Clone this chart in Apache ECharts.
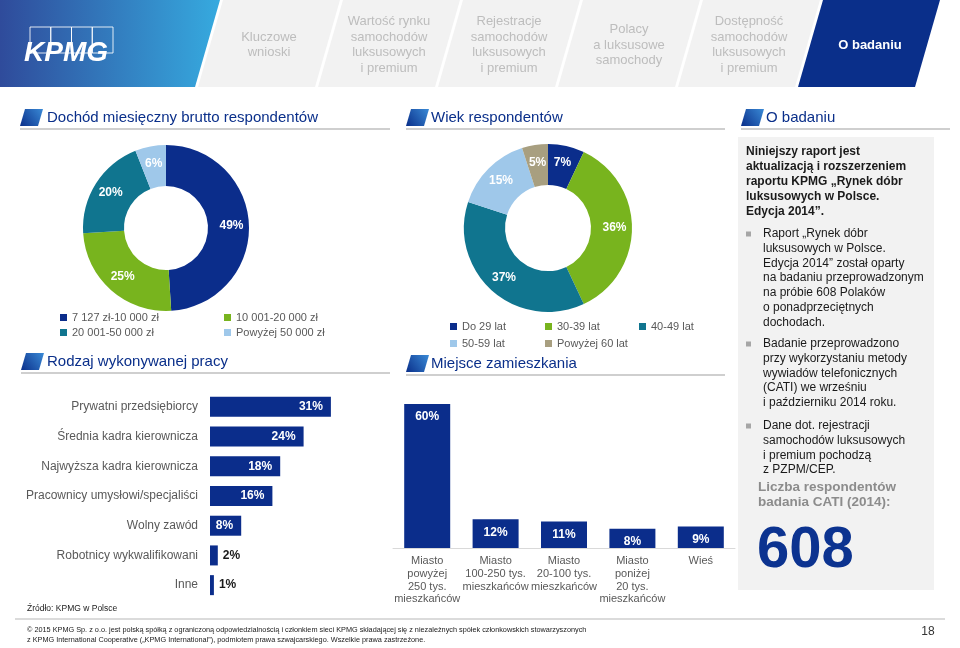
<!DOCTYPE html>
<html><head><meta charset="utf-8">
<script src="https://cdn.jsdelivr.net/npm/echarts@6/dist/echarts.min.js"></script>
<style>html,body{margin:0;padding:0;background:#fff}#c{width:960px;height:648px}</style>
</head><body><div id="c"></div>
<script>
// ---- data ----
const incomeCats = ['7 127 zł-10 000 zł', '10 001-20 000 zł', '20 001-50 000 zł', 'Powyżej 50 000 zł'];
const incomeVals = [49, 25, 20, 6];
const ageCats = ['Do 29 lat', '30-39 lat', '40-49 lat', '50-59 lat', 'Powyżej 60 lat'];
const ageVals = [7, 36, 37, 15, 5];
const jobCats = ['Prywatni przedsiębiorcy', 'Średnia kadra kierownicza', 'Najwyższa kadra kierownicza', 'Pracownicy umysłowi/specjaliści', 'Wolny zawód', 'Robotnicy wykwalifikowani', 'Inne'];
const jobVals = [31, 24, 18, 16, 8, 2, 1];
const placeCats = ['Miasto\npowyżej\n250 tys.\nmieszkańców', 'Miasto\n100-250 tys.\nmieszkańców', 'Miasto\n20-100 tys.\nmieszkańców', 'Miasto\nponiżej\n20 tys.\nmieszkańców', 'Wieś'];
const placeVals = [60, 12, 11, 8, 9];
const tabTexts = [['Kluczowe', 'wnioski'], ['Wartość rynku', 'samochodów', 'luksusowych', 'i premium'], ['Rejestracje', 'samochodów', 'luksusowych', 'i premium'], ['Polacy', 'a luksusowe', 'samochody'], ['Dostępność', 'samochodów', 'luksusowych', 'i premium']];
const introLines = ['Niniejszy raport jest', 'aktualizacją i rozszerzeniem', 'raportu KPMG „Rynek dóbr', 'luksusowych w Polsce.', 'Edycja 2014”.'];
const bullets = [
  ['Raport „Rynek dóbr', 'luksusowych w Polsce.', 'Edycja 2014” został oparty', 'na badaniu przeprowadzonym', 'na próbie 608 Polaków', 'o ponadprzeciętnych', 'dochodach.'],
  ['Badanie przeprowadzono', 'przy wykorzystaniu metody', 'wywiadów telefonicznych', '(CATI) we wrześniu', 'i październiku 2014 roku.'],
  ['Dane dot. rejestracji', 'samochodów luksusowych', 'i premium pochodzą', 'z PZPM/CEP.']
];
const respondents = '608';

// ---- style ----
const FONT = '"Liberation Sans", Arial, sans-serif';
const BLUE = '#0b2d8b';
const GREEN = '#78b41e';
const TEAL = '#10758f';
const LIGHT = '#9fc8ea';
const TAN = '#a89f80';
const GRAYTXT = '#595959';

function txt(text, x, y, o) {
  o = o || {};
  const al = o.align || 'left';
  return {type: 'text', x: x, y: y, silent: true, z: 10,
    style: {text: text, fill: o.color || GRAYTXT, fontSize: o.size || 12, fontWeight: o.weight || 'normal',
      fontFamily: FONT, textAlign: al, align: al, textVerticalAlign: 'middle', verticalAlign: 'middle'}};
}
function poly(points, fill) { return {type: 'polygon', silent: true, shape: {points: points}, style: {fill: fill}}; }
function hline(x1, x2, y, color, w) { return {type: 'line', silent: true, shape: {x1: x1, y1: y, x2: x2, y2: y}, style: {stroke: color, lineWidth: w || 1}}; }

const G = [];
// header
G.push(poly([[0, 0], [220, 0], [195, 87], [0, 87]], new echarts.graphic.LinearGradient(0, 0, 1, 0, [{offset: 0, color: '#2f4b9b'}, {offset: 1, color: '#36aadf'}])));
for (let i = 0; i < 5; i++) {
  const x0 = 223 + i * 120;
  G.push(poly([[x0, 0], [x0 + 117, 0], [x0 + 92, 87], [x0 - 25, 87]], '#f2f2f2'));
  const lines = tabTexts[i];
  const cx = x0 + 46;
  lines.forEach((l, j) => G.push(txt(l, cx, 45 + (j - (lines.length - 1) / 2) * 15.6, {align: 'center', color: '#bdbdbd', size: 13})));
}
G.push(poly([[823, 0], [940, 0], [915, 87], [798, 87]], '#0a2f8a'));
G.push(txt('O badaniu', 870, 45, {align: 'center', color: '#fff', size: 13, weight: 'bold'}));
// KPMG logo
for (let i = 0; i < 4; i++) {
  G.push({type: 'rect', silent: true, shape: {x: 30 + i * 20.75, y: 27, width: 20.75, height: 26}, style: {fill: 'none', stroke: 'rgba(255,255,255,0.85)', lineWidth: 1}});
}
G.push({type: 'text', x: 24, y: 53, silent: true, z: 10, style: {text: 'KPMG', fill: '#fff', fontSize: 28, fontWeight: 'bold', fontStyle: 'italic', fontFamily: FONT, textVerticalAlign: 'middle', verticalAlign: 'middle'}});

// section titles
function section(title, x0, x1, y, tx) {
  G.push(poly([[x0 + 5, y - 9], [x0 + 23, y - 9], [x0 + 18, y + 8], [x0, y + 8]], new echarts.graphic.LinearGradient(0, 1, 1, 0, [{offset: 0, color: '#0a2f8a'}, {offset: 1, color: '#3a8ad6'}])));
  G.push(txt(title, tx, y, {color: '#0a2f8a', size: 15}));
  G.push(hline(x0, x1, y + 11, '#cfcfcf', 2));
}
section('Dochód miesięczny brutto respondentów', 20, 390, 118, 47);
section('Wiek respondentów', 406, 725, 118, 431);
section('O badaniu', 741, 950, 118, 766);
section('Rodzaj wykonywanej pracy', 21, 390, 362, 47);
section('Miejsce zamieszkania', 406, 725, 364, 431);

// right panel
G.push({type: 'rect', silent: true, shape: {x: 738, y: 137, width: 196, height: 453}, style: {fill: '#f2f2f2'}});
introLines.forEach((l, j) => G.push(txt(l, 746, 152 + j * 14.8, {color: '#1a1a1a', size: 12, weight: 'bold'})));
const bulletY = [234, 344, 426];
bullets.forEach((b, k) => {
  G.push({type: 'rect', silent: true, shape: {x: 746, y: bulletY[k] - 2.5, width: 5, height: 5}, style: {fill: '#a6a6a6'}});
  b.forEach((l, j) => G.push(txt(l, 763, bulletY[k] + j * 14.7, {color: '#1a1a1a', size: 12})));
});
G.push(txt('Liczba respondentów', 758, 487, {color: '#8c8c8c', size: 13.5, weight: 'bold'}));
G.push(txt('badania CATI (2014):', 758, 502, {color: '#8c8c8c', size: 13.5, weight: 'bold'}));
G.push(txt(respondents, 757, 551, {color: '#0c3390', size: 58, weight: 'bold'}));

// source + footer
G.push(txt('Źródło: KPMG w Polsce', 27, 609, {color: '#1a1a1a', size: 8.5}));
G.push(hline(15, 945, 619, '#cfcfcf', 1.5));
G.push(txt('© 2015 KPMG Sp. z o.o. jest polską spółką z ograniczoną odpowiedzialnością i członkiem sieci KPMG składającej się z niezależnych spółek członkowskich stowarzyszonych', 27, 630, {color: '#1a1a1a', size: 7.3}));
G.push(txt('z KPMG International Cooperative („KPMG International”), podmiotem prawa szwajcarskiego. Wszelkie prawa zastrzeżone.', 27, 640, {color: '#1a1a1a', size: 7.3}));
G.push(txt('18', 928, 632, {color: '#333', size: 12, align: 'center'}));

// legends
function leg(name, left, top) {
  return {data: [name], left: left, top: top, padding: 0, itemGap: 0, icon: 'rect', itemWidth: 7, itemHeight: 7,
    selectedMode: false, textStyle: {color: GRAYTXT, fontSize: 11, fontFamily: FONT}};
}
const legends = [
  leg(incomeCats[0], 60, 312), leg(incomeCats[1], 224, 312), leg(incomeCats[2], 60, 327), leg(incomeCats[3], 224, 327),
  leg(ageCats[0], 450, 321), leg(ageCats[1], 545, 321), leg(ageCats[2], 639, 321), leg(ageCats[3], 450, 338), leg(ageCats[4], 545, 338)
];

const pieLabel = {show: true, position: 'inside', formatter: '{c}%', color: '#fff', fontWeight: 'bold', fontSize: 12, fontFamily: FONT};

const option = {
  animation: false,
  backgroundColor: '#fff',
  textStyle: {fontFamily: FONT},
  graphic: {elements: G},
  legend: legends,
  grid: [
    {left: 210, top: 392, width: 156, height: 208},
    {left: 393, top: 404, width: 342, height: 144}
  ],
  xAxis: [
    {gridIndex: 0, type: 'value', min: 0, max: 40, show: false},
    {gridIndex: 1, type: 'category', data: placeCats,
      axisLine: {lineStyle: {color: '#d9d9d9', width: 1}}, axisTick: {show: false},
      axisLabel: {interval: 0, color: GRAYTXT, fontSize: 11, lineHeight: 12.6, margin: 7, fontFamily: FONT}}
  ],
  yAxis: [
    {gridIndex: 0, type: 'category', data: jobCats, inverse: true, axisLine: {show: false}, axisTick: {show: false},
      axisLabel: {color: GRAYTXT, fontSize: 12, margin: 12, fontFamily: FONT}},
    {gridIndex: 1, type: 'value', min: 0, max: 60, show: false}
  ],
  series: [
    {type: 'pie', center: [166, 228], radius: [42, 83], startAngle: 90, clockwise: true, silent: true,
      label: pieLabel, labelLine: {show: false}, emphasis: {disabled: true},
      data: incomeCats.map((n, i) => ({name: n, value: incomeVals[i], itemStyle: {color: [BLUE, GREEN, TEAL, LIGHT][i]}}))},
    {type: 'pie', center: [548, 228], radius: [43, 84], startAngle: 90, clockwise: true, silent: true,
      label: pieLabel, labelLine: {show: false}, emphasis: {disabled: true},
      data: ageCats.map((n, i) => ({name: n, value: ageVals[i], itemStyle: {color: [BLUE, GREEN, TEAL, LIGHT, TAN][i]}}))},
    {type: 'bar', xAxisIndex: 0, yAxisIndex: 0, barWidth: 20, silent: true, itemStyle: {color: BLUE},
      label: {show: true, position: 'insideRight', distance: 8, color: '#fff', fontWeight: 'bold', fontSize: 12, formatter: '{c}%'},
      data: jobVals.map(v => v < 5 ? {value: v, label: {position: 'right', distance: 5, color: '#1a1a1a'}} : v)},
    {type: 'bar', xAxisIndex: 1, yAxisIndex: 1, barWidth: 46, silent: true, itemStyle: {color: BLUE},
      label: {show: true, position: 'insideTop', distance: 7, color: '#fff', fontWeight: 'bold', fontSize: 12, formatter: '{c}%'},
      data: placeVals}
  ]
};
const chart = echarts.init(document.getElementById('c'));
chart.setOption(option);
</script></body></html>
